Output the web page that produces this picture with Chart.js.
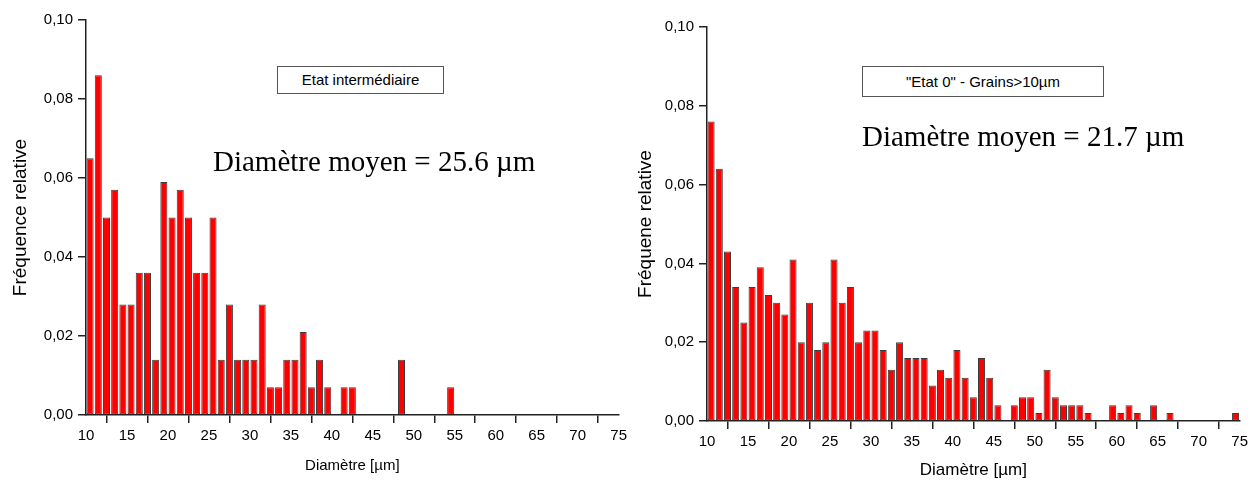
<!DOCTYPE html>
<html>
<head>
<meta charset="utf-8">
<script src="https://cdn.jsdelivr.net/npm/chart.js@4.4.0/dist/chart.umd.min.js"></script>
<style>
body{margin:0;background:#fff;width:1250px;height:481px;overflow:hidden;position:relative;font-family:Arial,"Liberation Sans",sans-serif}
.wrap{position:absolute;top:0;height:481px}
.box{position:absolute;border:1px solid #555;background:#fff;font-size:15px;color:#000;text-align:center;box-sizing:border-box}
.moy{position:absolute;font-family:"Liberation Serif","Times New Roman",serif;font-size:29px;line-height:30px;color:#000;white-space:nowrap}
</style>
</head>
<body>
<div class="wrap" style="left:0"><canvas id="gauche"></canvas></div>
<div class="wrap" style="left:625px"><canvas id="droite"></canvas></div>

<div class="box" style="left:277px;top:66px;width:167px;height:28px;line-height:26px">Etat intermédiaire</div>
<div class="moy" style="left:213px;top:146px">Diamètre moyen = 25.6 µm</div>

<div class="box" style="left:862px;top:66px;width:242px;height:31px;line-height:29px">"Etat 0" - Grains&gt;10µm</div>
<div class="moy" style="left:862px;top:121px">Diamètre moyen = 21.7 µm</div>

<script>
// ---------------- Données ----------------
// centres des classes de 1 µm (10-11, 11-12, ... 74-75)
const diametres = [10.5,11.5,12.5,13.5,14.5,15.5,16.5,17.5,18.5,19.5,
  20.5,21.5,22.5,23.5,24.5,25.5,26.5,27.5,28.5,29.5,
  30.5,31.5,32.5,33.5,34.5,35.5,36.5,37.5,38.5,39.5,
  40.5,41.5,42.5,43.5,44.5,45.5,46.5,47.5,48.5,49.5,
  50.5,51.5,52.5,53.5,54.5,55.5,56.5,57.5,58.5,59.5,
  60.5,61.5,62.5,63.5,64.5,65.5,66.5,67.5,68.5,69.5,
  70.5,71.5,72.5,73.5,74.5];

// Etat intermédiaire
const freqInter = [0.065,0.086,0.050,0.057,0.028,0.028,0.036,0.036,0.014,0.059,
  0.050,0.057,0.050,0.036,0.036,0.050,0.014,0.028,0.014,0.014,
  0.014,0.028,0.007,0.007,0.014,0.014,0.021,0.007,0.014,0.007,
  0,0.007,0.007,0,0,0,0,0,0.014,0,
  0,0,0,0,0.007,0,0,0,0,0,
  0,0,0,0,0,0,0,0,0,0,
  0,0,0,0,0];

// "Etat 0" - Grains>10µm
const freqEtat0 = [0.076,0.064,0.043,0.034,0.025,0.034,0.039,0.032,0.030,0.027,
  0.041,0.020,0.030,0.018,0.020,0.041,0.030,0.034,0.020,0.023,
  0.023,0.018,0.013,0.020,0.016,0.016,0.016,0.009,0.013,0.011,
  0.018,0.011,0.006,0.016,0.011,0.004,0,0.004,0.006,0.006,
  0.002,0.013,0.006,0.004,0.004,0.004,0.002,0,0,0.004,
  0.002,0.004,0.002,0,0.004,0,0.002,0,0,0,
  0,0,0,0,0.002];

const xTicks = [10,15,20,25,30,35,40,45,50,55,60,65,70,75];
const yTicks = [0,0.02,0.04,0.06,0.08,0.10];

// ---------------- Graphiques ----------------
function points(freqs){
  return diametres.map((d,i)=>({x:d,y:freqs[i]})).filter(p=>p.y>0);
}

function histo(id, freqs, yTitre, cfg){
  const cv=document.getElementById(id);
  cv.width=cfg.w; cv.height=481;
  return new Chart(cv.getContext('2d'),{
    type:'bar',
    data:{datasets:[{data:points(freqs), backgroundColor:'#ff0000', borderColor:'#3c3c3c', borderWidth:1,
      barPercentage:0.86, categoryPercentage:1, borderSkipped:false, inflateAmount:0}]},
    options:{
      responsive:false, animation:false,
      layout:{padding:{left:0, top:cfg.top, right:8, bottom:0}},
      plugins:{legend:{display:false}, tooltip:{enabled:false}},
      scales:{
        x:{type:'linear', min:10, max:75, offset:false,
          afterBuildTicks:s=>{s.ticks=xTicks.map(v=>({value:v}));},
          afterFit:s=>{s.height=cfg.xh;},
          grid:{drawOnChartArea:false, drawTicks:true, tickLength:8, color:'#222', lineWidth:1.5},
          border:{display:true, color:'#222', width:1.5},
          ticks:{color:'#000', font:{family:'Arial', size:15}, padding:4, maxRotation:0, autoSkip:false},
          title:{display:true, text:'Diamètre [µm]', color:'#000', font:{family:'Arial', size:cfg.xts}, padding:{top:0,bottom:cfg.xtb}}
        },
        y:{min:0, max:0.1,
          afterBuildTicks:s=>{s.ticks=yTicks.map(v=>({value:v}));},
          afterFit:s=>{s.width=cfg.yw;},
          grid:{drawOnChartArea:false, drawTicks:true, tickLength:8, color:'#222', lineWidth:1.5},
          border:{display:true, color:'#222', width:1.5},
          ticks:{color:'#000', font:{family:'Arial', size:15}, padding:5,
            callback:v=>v.toFixed(2).replace('.',',')},
          title:{display:true, text:yTitre, color:'#000', font:{family:'Arial', size:19}, padding:{top:9,bottom:0}}
        }
      }
    }
  });
}

histo('gauche', freqInter, 'Fréquence relative', {w:631, top:20, xh:66, yw:86, xtb:6, xts:15});
histo('droite', freqEtat0, 'Fréquene relative', {w:627, top:27, xh:60, yw:82, xtb:0, xts:17});
</script>
</body>
</html>
